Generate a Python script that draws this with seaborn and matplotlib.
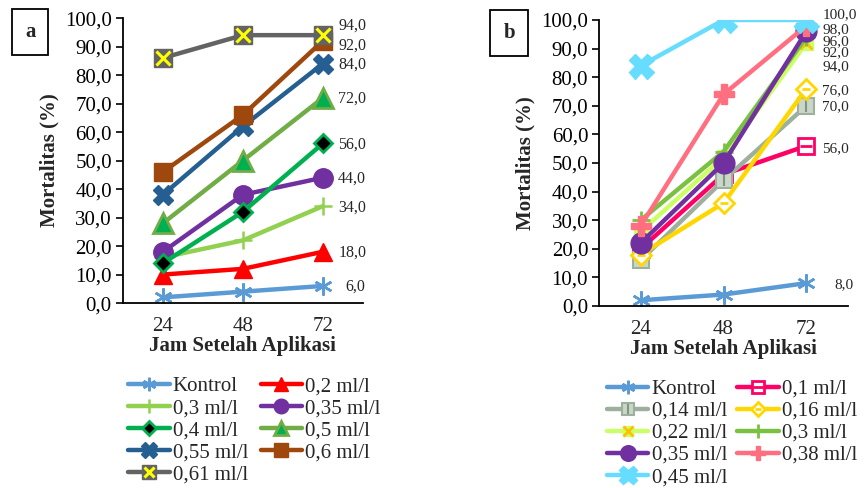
import matplotlib
matplotlib.use("Agg")
import matplotlib.pyplot as plt
import seaborn as sns
from matplotlib.ticker import FuncFormatter
from matplotlib.legend_handler import HandlerTuple

sns.set_theme(style="white")
plt.rcParams['font.family'] = ['Liberation Serif', 'DejaVu Serif']

hours = ["24", "48", "72"]

# Panel a
a_names = ["Kontrol", "0,2 ml/l", "0,3 ml/l", "0,35 ml/l", "0,4 ml/l",
           "0,5 ml/l", "0,55 ml/l", "0,6 ml/l", "0,61 ml/l"]
a_kontrol = [2, 4, 6]
a_02 = [10, 12, 18]
a_03 = [16, 22, 34]
a_035 = [18, 38, 44]
a_04 = [14, 32, 56]
a_05 = [28, 50, 72]
a_055 = [38, 62, 84]
a_06 = [46, 66, 92]
a_061 = [86, 94, 94]
a_values = [a_kontrol, a_02, a_03, a_035, a_04, a_05, a_055, a_06, a_061]
a_end_labels = ["94,0", "92,0", "84,0", "72,0", "56,0", "44,0", "34,0", "18,0", "6,0"]
a_end_label_vals = [94, 92, 84, 72, 56, 44, 34, 18, 6]

# Panel b
b_names = ["Kontrol", "0,1 ml/l", "0,14 ml/l", "0,16 ml/l", "0,22 ml/l",
           "0,3 ml/l", "0,35 ml/l", "0,38 ml/l", "0,45 ml/l"]
b_kontrol = [2, 4, 8]
b_01 = [20, 46, 56]
b_014 = [16, 44, 70]
b_016 = [18, 36, 76]
b_022 = [26, 52, 92]
b_03 = [30, 54, 94]
b_035 = [22, 50, 96]
b_038 = [28, 74, 98]
b_045 = [84, 100, 100]
b_values = [b_kontrol, b_01, b_014, b_016, b_022, b_03, b_035, b_038, b_045]
b_end_labels = ["100,0", "98,0", "96,0", "92,0", "94,0", "76,0", "70,0", "56,0", "8,0"]
b_end_label_vals = [100, 98, 96, 92, 94, 76, 70, 56, 8]

# styles: (line color, marker, markersize, face, edge, edge width, overlay)
a_styles = [
    ("#5B9BD5", (6, 2, 0), 13, "#5B9BD5", "#5B9BD5", 1.8, None),
    ("#FF0000", "^", 13, "#FF0000", "#FF0000", 1, None),
    ("#92D050", "+", 13, "#92D050", "#92D050", 1.8, None),
    ("#7030A0", "o", 14, "#7030A0", "#7030A0", 1, None),
    ("#00B050", "D", 9, "#000000", "#00B050", 2, None),
    ("#70AD47", "^", 14, "#00B050", "#70AD47", 2, None),
    ("#255E91", "X", 15, "#255E91", "#255E91", 1, None),
    ("#9E480E", "s", 13, "#9E480E", "#9E480E", 1, None),
    ("#636363", "s", 13, "#636363", "#636363", 1, ("x", 10, "#FFFF00", 2.2)),
]
b_styles = [
    ("#5B9BD5", (6, 2, 0), 13, "#5B9BD5", "#5B9BD5", 1.8, None),
    ("#FF0066", "s", 12, "white", "#FF0066", 2, ("_", 9, "#FF0066", 2)),
    ("#9DB09D", "s", 12, "#C9D6C9", "#9DB09D", 1.5, ("|", 9, "#7F997F", 1.5)),
    ("#FFD700", "D", 10, "white", "#FFD700", 2, ("_", 6, "#FFD700", 2)),
    ("#CCFF66", "s", 10, "#CCFF66", "#CCFF66", 1, ("x", 9, "#FFC000", 2)),
    ("#7AC142", "+", 13, "#7AC142", "#7AC142", 2, None),
    ("#7030A0", "o", 15, "#7030A0", "#7030A0", 1, None),
    ("#FF6F7F", "P", 14, "#FF6F7F", "#FF6F7F", 1, None),
    ("#66DDFF", "X", 18, "#66DDFF", "#66DDFF", 1, None),
]

# label placement offsets (points): (dx, dy)
a_label_offsets = [(11, 7.2), (11, -3.1), (11, -1), (11, -0.8), (11, -1.2),
                   (11, -1), (11, -1.4), (11, -1), (16, -0.8)]
b_label_offsets = [(11.5, 3.5), (11.5, -3.1), (11.5, -7.6), (11.5, -7.2), (11.5, -21.4),
                   (11.5, -1.7), (11.5, -0.8), (11.5, -1.7), (20, -1.4)]

fig = plt.figure(figsize=(8.66, 4.88), dpi=100)
ax_a = fig.add_axes([0.142, 0.379, 0.277, 0.584])
ax_b = fig.add_axes([0.692, 0.373, 0.287, 0.586])


def draw(ax, names, values, styles, end_labels, end_vals, offsets, panel, legend_pos, colsp, lfs):
    handles = []
    for name, vals, st in zip(names, values, styles):
        color, marker, ms, mfc, mec, mew, overlay = st
        sns.lineplot(x=hours, y=vals, ax=ax, color=color, linewidth=3.2,
                     marker=marker, markersize=ms, markerfacecolor=mfc,
                     markeredgecolor=mec, markeredgewidth=mew, sort=False)
        main = ax.get_lines()[-1]
        if overlay is not None:
            om, oms, oc, ow = overlay
            ov, = ax.plot(hours, vals, linestyle="none", marker=om, markersize=oms,
                          markeredgecolor=oc, markerfacecolor=oc, markeredgewidth=ow)
            handles.append((main, ov))
        else:
            handles.append(main)
    ax.set_xlim(-0.5, 2.5)
    ax.set_ylim(0, 100)
    ax.set_yticks(range(0, 101, 10))
    ax.yaxis.set_major_formatter(FuncFormatter(lambda v, p: f"{v:.1f}".replace(".", ",")))
    ax.tick_params(axis="y", which="major", direction="out", length=5, width=1.2,
                   left=True, labelsize=15, colors="black", pad=3)
    ax.tick_params(axis="x", length=0, labelsize=15, pad=10)
    for s in ["top", "right"]:
        ax.spines[s].set_visible(False)
    for s in ["left", "bottom"]:
        ax.spines[s].set_color("black")
        ax.spines[s].set_linewidth(1.3)
    ax.set_xlabel("Jam Setelah Aplikasi", fontsize=15, fontweight="bold", labelpad=0)
    ax.set_ylabel("Mortalitas (%)", fontsize=15, fontweight="bold", labelpad=4)
    for txt, v, (dx, dy) in zip(end_labels, end_vals, offsets):
        ax.annotate(txt, xy=(2, v), xytext=(dx, dy), textcoords="offset points",
                    fontsize=lfs, va="center", ha="left", annotation_clip=False)
    # reorder so the two-column legend reads row by row
    order = list(range(0, len(names), 2)) + list(range(1, len(names), 2))
    fig.legend([handles[i] for i in order], [names[i] for i in order], ncol=2,
               loc="upper left", bbox_to_anchor=legend_pos,
               frameon=False, fontsize=15, handlelength=2.0, handletextpad=0.15,
               columnspacing=colsp, labelspacing=0.12, borderaxespad=0, markerscale=0.75,
               handler_map={tuple: HandlerTuple(ndivide=1, pad=0)})
    bx, by = panel[1]
    ax.text(bx, by, panel[0], transform=fig.transFigure, fontsize=15, fontweight="bold",
            ha="center", va="center",
            bbox=dict(boxstyle="square,pad=0.62", facecolor="white", edgecolor="black", linewidth=1.3))


draw(ax_a, a_names, a_values, a_styles, a_end_labels, a_end_label_vals, a_label_offsets,
     ("a", (0.035, 0.935)), (0.138, 0.245), 0.6, 11.5)
draw(ax_b, b_names, b_values, b_styles, b_end_labels, b_end_label_vals, b_label_offsets,
     ("b", (0.588, 0.932)), (0.691, 0.24), 0.5, 11)

fig.savefig("out.png", dpi=100)
